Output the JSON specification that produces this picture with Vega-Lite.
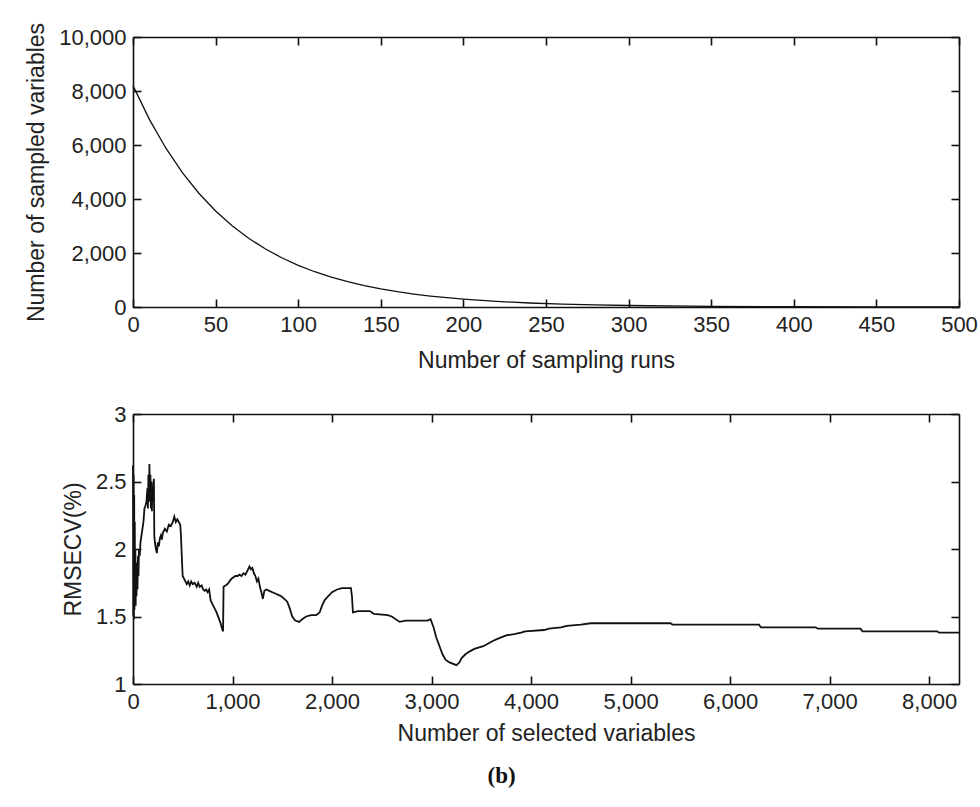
{
  "$schema": "https://vega.github.io/schema/vega-lite/v6.json",
  "background": "white",
  "padding": {"left": 25, "top": 22, "right": 5, "bottom": 5},
  "spacing": 31,
  "config": {
    "font": "Liberation Sans",
    "view": {"stroke": null},
    "axis": {
      "grid": false,
      "domainColor": "#111",
      "domainWidth": 1.6,
      "tickColor": "#111",
      "tickWidth": 1.6,
      "tickSize": -8,
      "labelFlush": false,
      "labelFont": "Liberation Sans",
      "labelFontSize": 22,
      "labelColor": "#222",
      "labelPadding": 15,
      "titleFont": "Liberation Sans",
      "titleFontSize": 23,
      "titleFontWeight": "normal",
      "titleColor": "#222"
    }
  },
  "title": {"text": "(b)", "orient": "bottom", "anchor": "middle", "font": "Liberation Serif", "fontSize": 23, "fontWeight": "bold", "color": "#111", "offset": 20},
  "datasets": {
    "runs": [
      {"run": 0, "n": 8200}, {"run": 10, "n": 6939}, {"run": 20, "n": 5872}, {"run": 30, "n": 4969},
      {"run": 40, "n": 4205}, {"run": 50, "n": 3558}, {"run": 60, "n": 3011}, {"run": 70, "n": 2548},
      {"run": 80, "n": 2156}, {"run": 90, "n": 1825}, {"run": 100, "n": 1544}, {"run": 110, "n": 1306},
      {"run": 120, "n": 1106}, {"run": 130, "n": 936}, {"run": 140, "n": 792}, {"run": 150, "n": 670},
      {"run": 160, "n": 567}, {"run": 170, "n": 480}, {"run": 180, "n": 406}, {"run": 190, "n": 344},
      {"run": 200, "n": 291}, {"run": 220, "n": 208}, {"run": 240, "n": 149}, {"run": 260, "n": 107},
      {"run": 280, "n": 76}, {"run": 300, "n": 55}, {"run": 350, "n": 24}, {"run": 400, "n": 10},
      {"run": 450, "n": 5}, {"run": 500, "n": 2}
    ],
    "rmse": [
      {"v": 0, "r": 2.62}, {"v": 3, "r": 1.5}, {"v": 6, "r": 2.55}, {"v": 9, "r": 1.48},
      {"v": 12, "r": 2.4}, {"v": 15, "r": 1.55}, {"v": 18, "r": 2.2}, {"v": 21, "r": 1.6},
      {"v": 24, "r": 2.0}, {"v": 27, "r": 1.58}, {"v": 30, "r": 1.85}, {"v": 35, "r": 1.65},
      {"v": 40, "r": 1.9}, {"v": 45, "r": 1.7}, {"v": 50, "r": 1.95}, {"v": 55, "r": 1.8},
      {"v": 60, "r": 2.0}, {"v": 68, "r": 1.95}, {"v": 75, "r": 2.05}, {"v": 85, "r": 2.1},
      {"v": 95, "r": 2.15}, {"v": 105, "r": 2.2}, {"v": 115, "r": 2.3}, {"v": 125, "r": 2.32},
      {"v": 135, "r": 2.35}, {"v": 145, "r": 2.45}, {"v": 150, "r": 2.3}, {"v": 155, "r": 2.55},
      {"v": 160, "r": 2.35}, {"v": 165, "r": 2.63}, {"v": 170, "r": 2.4}, {"v": 175, "r": 2.55},
      {"v": 180, "r": 2.3}, {"v": 185, "r": 2.5}, {"v": 190, "r": 2.28}, {"v": 195, "r": 2.45},
      {"v": 200, "r": 2.35}, {"v": 205, "r": 2.48}, {"v": 210, "r": 2.52}, {"v": 214, "r": 2.1},
      {"v": 220, "r": 2.05}, {"v": 230, "r": 2.0}, {"v": 240, "r": 1.97}, {"v": 250, "r": 2.05},
      {"v": 260, "r": 2.02}, {"v": 270, "r": 2.08}, {"v": 280, "r": 2.1}, {"v": 290, "r": 2.07},
      {"v": 300, "r": 2.12}, {"v": 320, "r": 2.15}, {"v": 340, "r": 2.13}, {"v": 360, "r": 2.18},
      {"v": 380, "r": 2.17}, {"v": 400, "r": 2.2}, {"v": 415, "r": 2.24}, {"v": 430, "r": 2.2},
      {"v": 445, "r": 2.22}, {"v": 460, "r": 2.2}, {"v": 475, "r": 2.18}, {"v": 482, "r": 2.1},
      {"v": 490, "r": 1.95}, {"v": 499, "r": 1.8}, {"v": 520, "r": 1.77}, {"v": 540, "r": 1.74},
      {"v": 555, "r": 1.76}, {"v": 570, "r": 1.73}, {"v": 585, "r": 1.76}, {"v": 600, "r": 1.74},
      {"v": 620, "r": 1.75}, {"v": 640, "r": 1.72}, {"v": 655, "r": 1.75}, {"v": 670, "r": 1.72},
      {"v": 690, "r": 1.73}, {"v": 705, "r": 1.7}, {"v": 720, "r": 1.69}, {"v": 735, "r": 1.7},
      {"v": 750, "r": 1.68}, {"v": 765, "r": 1.7}, {"v": 780, "r": 1.62}, {"v": 800, "r": 1.59},
      {"v": 820, "r": 1.56}, {"v": 840, "r": 1.53}, {"v": 860, "r": 1.49}, {"v": 880, "r": 1.45},
      {"v": 895, "r": 1.41}, {"v": 905, "r": 1.39}, {"v": 910, "r": 1.72}, {"v": 930, "r": 1.73},
      {"v": 950, "r": 1.74}, {"v": 970, "r": 1.76}, {"v": 990, "r": 1.78}, {"v": 1010, "r": 1.79},
      {"v": 1030, "r": 1.8}, {"v": 1050, "r": 1.8}, {"v": 1070, "r": 1.81}, {"v": 1090, "r": 1.8},
      {"v": 1110, "r": 1.82}, {"v": 1130, "r": 1.81}, {"v": 1150, "r": 1.84}, {"v": 1170, "r": 1.87},
      {"v": 1185, "r": 1.85}, {"v": 1200, "r": 1.86}, {"v": 1215, "r": 1.82}, {"v": 1230, "r": 1.8},
      {"v": 1245, "r": 1.76}, {"v": 1260, "r": 1.78}, {"v": 1275, "r": 1.72}, {"v": 1290, "r": 1.68},
      {"v": 1305, "r": 1.63}, {"v": 1320, "r": 1.69}, {"v": 1340, "r": 1.7}, {"v": 1370, "r": 1.69},
      {"v": 1400, "r": 1.68}, {"v": 1430, "r": 1.67}, {"v": 1460, "r": 1.66}, {"v": 1490, "r": 1.65},
      {"v": 1520, "r": 1.63}, {"v": 1550, "r": 1.61}, {"v": 1575, "r": 1.56}, {"v": 1600, "r": 1.5},
      {"v": 1630, "r": 1.47}, {"v": 1670, "r": 1.46}, {"v": 1700, "r": 1.48}, {"v": 1740, "r": 1.5},
      {"v": 1790, "r": 1.51}, {"v": 1840, "r": 1.51}, {"v": 1875, "r": 1.53}, {"v": 1900, "r": 1.58},
      {"v": 1925, "r": 1.62}, {"v": 1960, "r": 1.65}, {"v": 2000, "r": 1.68}, {"v": 2050, "r": 1.7},
      {"v": 2100, "r": 1.71}, {"v": 2190, "r": 1.71}, {"v": 2200, "r": 1.65}, {"v": 2210, "r": 1.53},
      {"v": 2260, "r": 1.54}, {"v": 2380, "r": 1.54}, {"v": 2420, "r": 1.52}, {"v": 2560, "r": 1.51},
      {"v": 2600, "r": 1.5}, {"v": 2680, "r": 1.46}, {"v": 2740, "r": 1.47}, {"v": 2960, "r": 1.47},
      {"v": 2990, "r": 1.48}, {"v": 3020, "r": 1.42}, {"v": 3045, "r": 1.35}, {"v": 3080, "r": 1.28},
      {"v": 3110, "r": 1.22}, {"v": 3140, "r": 1.18}, {"v": 3180, "r": 1.16}, {"v": 3250, "r": 1.14},
      {"v": 3280, "r": 1.16}, {"v": 3300, "r": 1.19}, {"v": 3340, "r": 1.22}, {"v": 3380, "r": 1.24},
      {"v": 3430, "r": 1.26}, {"v": 3470, "r": 1.27}, {"v": 3520, "r": 1.28}, {"v": 3570, "r": 1.3},
      {"v": 3620, "r": 1.32}, {"v": 3680, "r": 1.34}, {"v": 3750, "r": 1.36}, {"v": 3830, "r": 1.37},
      {"v": 3900, "r": 1.38}, {"v": 3940, "r": 1.39}, {"v": 4130, "r": 1.4}, {"v": 4180, "r": 1.41},
      {"v": 4300, "r": 1.42}, {"v": 4360, "r": 1.43}, {"v": 4500, "r": 1.44}, {"v": 4600, "r": 1.45},
      {"v": 5400, "r": 1.45}, {"v": 5420, "r": 1.44}, {"v": 6290, "r": 1.44}, {"v": 6310, "r": 1.42},
      {"v": 6860, "r": 1.42}, {"v": 6880, "r": 1.41}, {"v": 7310, "r": 1.41}, {"v": 7330, "r": 1.39},
      {"v": 8080, "r": 1.39}, {"v": 8100, "r": 1.38}, {"v": 8300, "r": 1.38}
    ]
  },
  "vconcat": [
    {
      "width": 826,
      "height": 270,
      "data": {"name": "runs"},
      "layer": [
        {
          "mark": {"type": "line", "color": "#111", "strokeWidth": 1.3},
          "encoding": {
            "x": {"field": "run", "type": "quantitative", "scale": {"domain": [0, 500], "nice": false},
                  "axis": {"values": [0, 50, 100, 150, 200, 250, 300, 350, 400, 450, 500], "format": "d", "title": "Number of sampling runs", "titlePadding": 14}},
            "y": {"field": "n", "type": "quantitative", "scale": {"domain": [0, 10000], "nice": false},
                  "axis": {"values": [0, 2000, 4000, 6000, 8000, 10000], "format": ",.0f", "title": "Number of sampled variables", "titlePadding": 10}}
          }
        },
        {
          "mark": {"type": "line", "opacity": 0},
          "encoding": {
            "x": {"field": "run", "type": "quantitative", "axis": {"orient": "top", "values": [0, 50, 100, 150, 200, 250, 300, 350, 400, 450, 500], "labels": false, "title": null}},
            "y": {"field": "n", "type": "quantitative", "axis": {"orient": "right", "values": [0, 2000, 4000, 6000, 8000, 10000], "labels": false, "title": null}}
          }
        }
      ],
      "resolve": {"axis": {"x": "independent", "y": "independent"}}
    },
    {
      "width": 826,
      "height": 270,
      "data": {"name": "rmse"},
      "layer": [
        {
          "mark": {"type": "line", "color": "#111", "strokeWidth": 1.8},
          "encoding": {
            "x": {"field": "v", "type": "quantitative", "scale": {"domain": [0, 8300], "nice": false},
                  "axis": {"values": [0, 1000, 2000, 3000, 4000, 5000, 6000, 7000, 8000], "format": ",.0f", "title": "Number of selected variables", "titlePadding": 10}},
            "y": {"field": "r", "type": "quantitative", "scale": {"domain": [1, 3], "nice": false},
                  "axis": {"values": [1, 1.5, 2, 2.5, 3], "format": "~g", "title": "RMSECV(%)", "titlePadding": 10}}
          }
        },
        {
          "mark": {"type": "line", "opacity": 0},
          "encoding": {
            "x": {"field": "v", "type": "quantitative", "axis": {"orient": "top", "values": [0, 1000, 2000, 3000, 4000, 5000, 6000, 7000, 8000], "labels": false, "title": null}},
            "y": {"field": "r", "type": "quantitative", "axis": {"orient": "right", "values": [1, 1.5, 2, 2.5, 3], "labels": false, "title": null}}
          }
        }
      ],
      "resolve": {"axis": {"x": "independent", "y": "independent"}}
    }
  ]
}
